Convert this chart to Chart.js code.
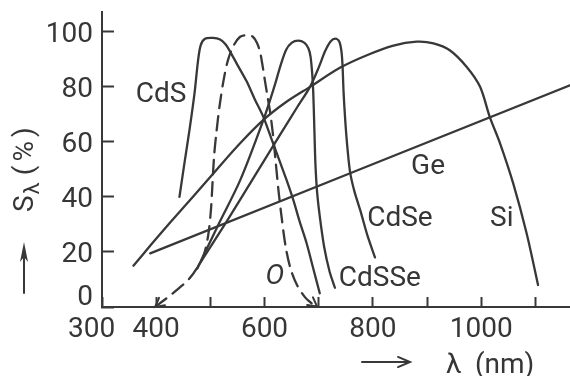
<!DOCTYPE html>
<html><head><meta charset="utf-8">
<script src="https://cdn.jsdelivr.net/npm/chart.js@4.4.1/dist/chart.umd.min.js"></script>
<style>html,body{margin:0;padding:0;background:#fff;}#wrap{width:570px;height:376px;}</style>
</head><body><div id="wrap"><canvas id="c" width="570" height="376"></canvas></div>
<script>
// ---- data (wavelength in nm, relative sensitivity in %) ----
const xTickValues = [300, 400, 500, 600, 700, 800, 900, 1000, 1100];
const xTickLabels = ['300   ', '400', '', '600', '', '800', '', '1000', ''];
const yTickValues = [0, 20, 40, 60, 80, 100];

const cdsX = [443, 452, 462, 471, 477, 482, 490, 505, 518, 528, 536, 550, 567, 582, 598, 613, 628, 641, 653, 665, 678, 690, 702];
const cdsY = [40, 52, 65, 78, 89, 95, 97.5, 97.8, 97.2, 95.5, 93, 88, 82, 75.5, 69, 61, 53, 46, 39, 31, 23, 14, 5];

const eyeX = [398, 420, 440, 460, 475, 488, 496, 501, 504, 507, 511, 517, 525, 533, 543, 555, 567, 578, 586, 592, 597, 601, 606, 611, 616, 621, 626, 632, 639, 648, 660, 675, 688, 697];
const eyeY = [0, 3.3, 6.5, 10, 14, 19, 26, 35, 45, 55, 63, 73, 83, 90, 95, 98.2, 98.8, 98.3, 96, 92.5, 87, 82, 76, 70, 62, 52, 42, 32, 22, 14, 8, 3.5, 1.2, 0.2];

const cdsseX = [476, 515, 555, 598, 618, 630, 640, 650, 662, 674, 681, 685, 688, 690, 692, 694, 697, 702, 710, 720, 730];
const cdsseY = [14, 30, 46, 68, 80, 88, 93.5, 96, 96.8, 96, 94, 91, 85, 78, 65, 52, 42, 33, 22, 13, 7];

const cdseX = [478, 530, 580, 630, 660, 684, 700, 712, 722, 731, 738, 742, 744, 746, 749, 753, 758, 766, 777, 790, 804];
const cdseY = [15, 31, 47, 63, 72.5, 80, 87, 93, 96.5, 97.5, 96.5, 93, 88, 78, 68, 58, 49, 42, 35, 26, 18];

const siX = [358, 390, 425, 470, 512, 555, 598, 640, 684, 740, 789, 838, 881, 912, 942, 973, 998, 1016, 1035, 1059, 1084, 1105];
const siY = [15, 22.5, 30.5, 40.5, 50, 59.5, 68, 74.5, 80, 87, 91.5, 95, 96.4, 95.8, 93.3, 87.3, 80, 69, 59.4, 45, 26.7, 8];

const geX = [389, 1164];
const geY = [19.5, 80.6];

// ---- presentation ----
const INK = '#383838';
const TEXT = '#363636';
const FONT = 'Roboto, "DejaVu Sans", sans-serif';

const curveLabels = [
  { text: 'CdS', x: 409, y: 77 },
  { text: 'Ge', x: 902, y: 50.9 },
  { text: 'CdSe', x: 850, y: 32 },
  { text: 'Si', x: 1038, y: 32 },
  { text: 'CdSSe', x: 813, y: 10.2 },
  { text: 'O', x: 619, y: 10.9, italic: true }
];

function pts(xs, ys) { return xs.map((v, i) => ({ x: v, y: ys[i] })); }
function ds(xs, ys, dash) {
  return {
    data: pts(xs, ys), borderColor: INK, borderWidth: 2.3, pointRadius: 0,
    tension: 0.3, fill: false, borderDash: dash || [], borderCapStyle: 'round'
  };
}

function arrowHead(ctx, tipX, tipY, fromX, fromY, len, ang) {
  const a = Math.atan2(tipY - fromY, tipX - fromX);
  ctx.beginPath();
  ctx.moveTo(tipX - len * Math.cos(a - ang), tipY - len * Math.sin(a - ang));
  ctx.lineTo(tipX, tipY);
  ctx.lineTo(tipX - len * Math.cos(a + ang), tipY - len * Math.sin(a + ang));
  ctx.stroke();
}

const inkPlugin = {
  id: 'ink',
  afterDraw(chart) {
    const { ctx, scales: { x, y } } = chart;
    ctx.save();
    ctx.fillStyle = TEXT;
    ctx.strokeStyle = INK;
    ctx.lineWidth = 2;
    ctx.lineCap = 'round';
    // curve labels
    ctx.textAlign = 'center';
    ctx.textBaseline = 'middle';
    curveLabels.forEach(l => {
      ctx.font = (l.italic ? 'italic ' : '') + '28px ' + FONT;
      ctx.fillText(l.text, x.getPixelForValue(l.x), y.getPixelForValue(l.y));
    });
    // arrowheads on the dashed (eye) curve ends
    const n = eyeX.length;
    arrowHead(ctx, x.getPixelForValue(eyeX[0]), y.getPixelForValue(eyeY[0]),
      x.getPixelForValue(eyeX[2]), y.getPixelForValue(eyeY[2]), 10, 0.5);
    arrowHead(ctx, x.getPixelForValue(eyeX[n - 1]), y.getPixelForValue(eyeY[n - 1]),
      x.getPixelForValue(eyeX[n - 3]), y.getPixelForValue(eyeY[n - 3]), 10, 0.5);

    // y axis title  S_λ (%)
    ctx.save();
    ctx.translate(33, 212);
    ctx.rotate(-Math.PI / 2);
    ctx.textAlign = 'left';
    ctx.textBaseline = 'alphabetic';
    ctx.font = '28px ' + FONT;
    ctx.fillText('S', 0, 0);
    const sw = ctx.measureText('S').width;
    ctx.font = '22px ' + FONT;
    ctx.fillText('λ', sw + 1, 6);
    const lw = ctx.measureText('λ').width;
    ctx.font = '28px ' + FONT;
    ctx.letterSpacing = '4px';
    ctx.fillText('(%)', sw + lw + 8, 0);
    ctx.restore();

    // y arrow
    ctx.beginPath();
    ctx.moveTo(24, 293); ctx.lineTo(24, 250); ctx.stroke();
    ctx.beginPath();
    ctx.moveTo(24, 242); ctx.lineTo(20, 262); ctx.lineTo(24, 257); ctx.lineTo(28, 262); ctx.closePath();
    ctx.fillStyle = INK; ctx.fill();

    // x axis title  → λ (nm)
    ctx.beginPath();
    ctx.moveTo(362, 362); ctx.lineTo(409, 362); ctx.stroke();
    arrowHead(ctx, 410, 362, 362, 362, 13, 0.4);
    ctx.fillStyle = TEXT;
    ctx.textAlign = 'left';
    ctx.textBaseline = 'alphabetic';
    ctx.font = '28px ' + FONT;
    ctx.fillText('λ', 446, 373);
    ctx.fillText('(nm)', 475, 373);
    ctx.restore();
  }
};

new Chart(document.getElementById('c'), {
  type: 'line',
  data: {
    datasets: [
      ds(cdsX, cdsY),
      ds(eyeX, eyeY, [14, 8]),
      ds(cdsseX, cdsseY),
      ds(cdseX, cdseY),
      ds(siX, siY),
      ds(geX, geY)
    ]
  },
  options: {
    responsive: false,
    animation: false,
    devicePixelRatio: 1,
    layout: { padding: { top: 12, left: 0, right: 0, bottom: 0 } },
    plugins: { legend: { display: false }, tooltip: { enabled: false } },
    scales: {
      x: {
        type: 'linear', min: 300, max: 1164,
        afterBuildTicks: s => { s.ticks = xTickValues.map(v => ({ value: v })); },
        afterFit: s => { s.height = 69; s.paddingLeft = 0; s.paddingRight = 0; },
        ticks: {
          autoSkip: false, maxRotation: 0, padding: 16, color: TEXT,
          font: { family: FONT, size: 28 },
          callback: (v) => { const i = xTickValues.indexOf(v); return i >= 0 ? xTickLabels[i] : ''; }
        },
        grid: { drawOnChartArea: false, drawTicks: true, tickLength: -10, color: INK, tickWidth: 2 },
        border: { display: true, color: INK, width: 2 }
      },
      y: {
        type: 'linear', min: 0, max: 107.2,
        afterBuildTicks: s => { s.ticks = yTickValues.map(v => ({ value: v })); },
        afterFit: s => { s.width = 102; s.paddingTop = 0; s.paddingBottom = 0; },
        ticks: {
          autoSkip: false, padding: 21, color: TEXT,
          font: { family: FONT, size: 28, lineHeight: 0.22 },
          callback: (v) => v === 0 ? ['0', '', '', ''] : ['', String(v)]
        },
        grid: { drawOnChartArea: false, drawTicks: true, tickLength: -12, color: INK, tickWidth: 2 },
        border: { display: true, color: INK, width: 2 }
      }
    }
  },
  plugins: [inkPlugin]
});
</script>
</body></html>
